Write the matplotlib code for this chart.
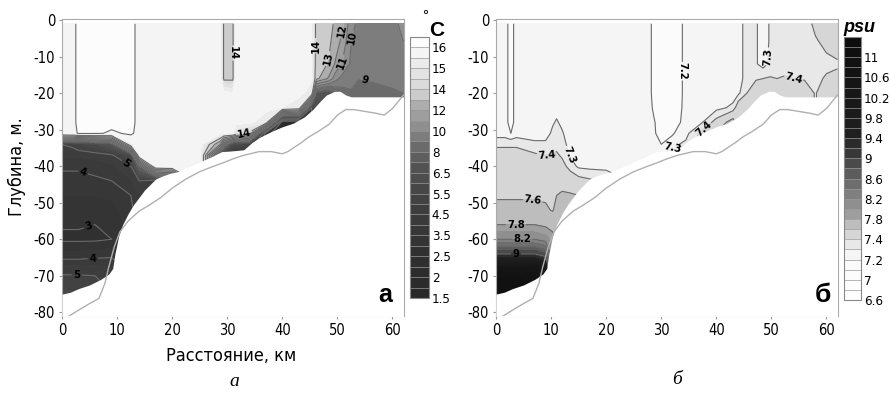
import numpy as np
import matplotlib
matplotlib.use("Agg")
import matplotlib.pyplot as plt
from matplotlib import font_manager

# ---------------- data ----------------
depth = [-1, -6, -12, -16, -20, -24, -28, -31, -34, -37, -40, -44, -48, -52, -56, -60, -64, -68, -72, -76]

temp_dist = [0, 2, 3, 6, 9, 12.5, 14, 17, 20, 25, 28.7, 29.4, 31, 31.6, 34, 37, 40, 43,
             45.3, 46.2, 48.5, 49.6, 51, 52.5, 54, 57, 60, 62]
temp_profiles = [
    [15.7, 15.7, 15.7, 15.7, 15.7, 15.7, 15.7, 15.6, 5.0, 4.6, 4.1, 3.8, 3.5, 3.3, 3.05, 2.9, 3.6, 4.7, 5.4, 5.6],
    [15.8, 15.8, 15.8, 15.8, 15.8, 15.8, 15.8, 15.7, 5.2, 4.6, 4.1, 3.8, 3.5, 3.3, 3.05, 2.9, 3.6, 4.7, 5.4, 5.6],
    [16.2, 16.2, 16.2, 16.2, 16.2, 16.2, 16.2, 16.1, 5.5, 4.6, 4.1, 3.8, 3.5, 3.3, 3.05, 2.9, 3.6, 4.7, 5.4, 5.6],
    [16.2, 16.2, 16.2, 16.2, 16.2, 16.2, 16.2, 16.1, 6.0, 4.7, 4.2, 3.9, 3.5, 3.25, 3.0, 2.9, 3.7, 4.7, 5.3, 5.3],
    [16.2, 16.2, 16.2, 16.2, 16.2, 16.2, 16.2, 15.9, 7.0, 4.9, 4.4, 4.0, 3.6, 3.3, 3.1, 3.0, 3.8, 4.6, 4.6, 4.6],
    [16.2, 16.2, 16.2, 16.2, 16.2, 16.2, 16.2, 16.1, 15.4, 6.0, 5.0, 4.4, 4.0, 3.8, 3.8, 3.8, 3.8, 3.8, 3.8, 3.8],
    [15.8, 15.8, 15.8, 15.8, 15.8, 15.8, 15.8, 15.8, 15.7, 15.5, 8.0, 5.0, 4.5, 4.5, 4.5, 4.5, 4.5, 4.5, 4.5, 4.5],
    [15.8, 15.8, 15.8, 15.8, 15.8, 15.8, 15.8, 15.8, 15.8, 15.8, 15.5, 4.5, 4.5, 4.5, 4.5, 4.5, 4.5, 4.5, 4.5, 4.5],
    [15.8, 15.8, 15.8, 15.8, 15.8, 15.8, 15.8, 15.8, 15.8, 15.8, 15.7, 5.0, 5.0, 5.0, 5.0, 5.0, 5.0, 5.0, 5.0, 5.0],
    [15.8, 15.8, 15.8, 15.8, 15.8, 15.8, 15.8, 15.8, 15.8, 15.8, 15.8, 15.8, 15.8, 15.8, 15.8, 15.8, 15.8, 15.8, 15.8, 15.8],
    [15.7, 15.7, 15.7, 15.7, 15.7, 15.7, 15.7, 15.7, 12.0, 6.0, 6.0, 6.0, 6.0, 6.0, 6.0, 6.0, 6.0, 6.0, 6.0, 6.0],
    [13.8, 13.8, 13.8, 13.8, 15.7, 15.7, 15.7, 15.6, 9.0, 5.0, 5.0, 5.0, 5.0, 5.0, 5.0, 5.0, 5.0, 5.0, 5.0, 5.0],
    [13.8, 13.8, 13.8, 13.8, 15.6, 15.7, 15.7, 15.6, 6.0, 4.5, 4.5, 4.5, 4.5, 4.5, 4.5, 4.5, 4.5, 4.5, 4.5, 4.5],
    [15.7, 15.7, 15.7, 15.7, 15.7, 15.7, 15.7, 14.6, 6.0, 4.5, 4.5, 4.5, 4.5, 4.5, 4.5, 4.5, 4.5, 4.5, 4.5, 4.5],
    [15.7, 15.7, 15.7, 15.7, 15.7, 15.7, 15.7, 13.8, 5.5, 5.5, 5.5, 5.5, 5.5, 5.5, 5.5, 5.5, 5.5, 5.5, 5.5, 5.5],
    [15.7, 15.7, 15.7, 15.7, 15.7, 15.7, 15.0, 3.5, 3.5, 3.5, 3.5, 3.5, 3.5, 3.5, 3.5, 3.5, 3.5, 3.5, 3.5, 3.5],
    [15.7, 15.7, 15.7, 15.7, 15.7, 15.5, 2.0, 2.0, 2.0, 2.0, 2.0, 2.0, 2.0, 2.0, 2.0, 2.0, 2.0, 2.0, 2.0, 2.0],
    [15.7, 15.7, 15.7, 15.7, 15.7, 15.0, 1.7, 1.7, 1.7, 1.7, 1.7, 1.7, 1.7, 1.7, 1.7, 1.7, 1.7, 1.7, 1.7, 1.7],
    [15.6, 15.6, 15.6, 15.6, 15.2, 5.0, 5.0, 5.0, 5.0, 5.0, 5.0, 5.0, 5.0, 5.0, 5.0, 5.0, 5.0, 5.0, 5.0, 5.0],
    [13.6, 13.6, 13.5, 13.3, 7.0, 6.0, 6.0, 6.0, 6.0, 6.0, 6.0, 6.0, 6.0, 6.0, 6.0, 6.0, 6.0, 6.0, 6.0, 6.0],
    [13.2, 13.15, 12.9, 11.8, 6.5, 6.5, 6.5, 6.5, 6.5, 6.5, 6.5, 6.5, 6.5, 6.5, 6.5, 6.5, 6.5, 6.5, 6.5, 6.5],
    [12.9, 12.6, 11.9, 10.4, 8.0, 8.0, 8.0, 8.0, 8.0, 8.0, 8.0, 8.0, 8.0, 8.0, 8.0, 8.0, 8.0, 8.0, 8.0, 8.0],
    [12.1, 11.6, 10.8, 9.6, 8.6, 8.6, 8.6, 8.6, 8.6, 8.6, 8.6, 8.6, 8.6, 8.6, 8.6, 8.6, 8.6, 8.6, 8.6, 8.6],
    [10.3, 10.0, 9.8, 9.3, 8.9, 8.9, 8.9, 8.9, 8.9, 8.9, 8.9, 8.9, 8.9, 8.9, 8.9, 8.9, 8.9, 8.9, 8.9, 8.9],
    [9.7, 9.6, 9.4, 9.0, 8.8, 8.8, 8.8, 8.8, 8.8, 8.8, 8.8, 8.8, 8.8, 8.8, 8.8, 8.8, 8.8, 8.8, 8.8, 8.8],
    [9.6, 9.5, 9.3, 9.1, 8.8, 8.8, 8.8, 8.8, 8.8, 8.8, 8.8, 8.8, 8.8, 8.8, 8.8, 8.8, 8.8, 8.8, 8.8, 8.8],
    [9.8, 9.7, 9.5, 9.2, 8.9, 8.9, 8.9, 8.9, 8.9, 8.9, 8.9, 8.9, 8.9, 8.9, 8.9, 8.9, 8.9, 8.9, 8.9, 8.9],
    [10.2, 10.0, 9.6, 9.3, 9.0, 9.0, 9.0, 9.0, 9.0, 9.0, 9.0, 9.0, 9.0, 9.0, 9.0, 9.0, 9.0, 9.0, 9.0, 9.0],
]

sal_dist = [0, 1.6, 2.7, 3.7, 7, 9, 10.3, 11, 12, 13.5, 15, 17, 20, 25, 27.8, 28.6, 30, 32, 33.3, 34.5,
            37, 40, 43, 44, 45, 47.2, 48.5, 49.8, 51, 52.5, 54, 56, 58, 60, 62]
sal_profiles = [
    [7.25, 7.25, 7.25, 7.25, 7.25, 7.25, 7.25, 7.25, 7.38, 7.45, 7.50, 7.55, 7.58, 7.65, 7.80, 8.20, 9.00, 10.5, 11.0, 11.0],
    [7.25, 7.25, 7.25, 7.25, 7.25, 7.25, 7.25, 7.25, 7.38, 7.45, 7.50, 7.55, 7.58, 7.65, 7.80, 8.20, 9.00, 10.5, 11.0, 11.0],
    [7.15, 7.15, 7.15, 7.15, 7.15, 7.15, 7.15, 7.20, 7.38, 7.45, 7.50, 7.55, 7.58, 7.65, 7.80, 8.20, 9.00, 10.5, 11.0, 11.0],
    [7.25, 7.25, 7.25, 7.25, 7.25, 7.25, 7.25, 7.25, 7.38, 7.45, 7.50, 7.55, 7.58, 7.65, 7.80, 8.20, 9.00, 10.5, 11.0, 11.0],
    [7.25, 7.25, 7.25, 7.25, 7.25, 7.25, 7.25, 7.26, 7.32, 7.42, 7.50, 7.55, 7.58, 7.65, 7.80, 8.20, 9.00, 10.5, 10.8, 10.8],
    [7.25, 7.25, 7.25, 7.25, 7.25, 7.25, 7.25, 7.26, 7.32, 7.40, 7.48, 7.55, 7.58, 7.62, 7.75, 8.10, 8.80, 10.0, 10.0, 10.0],
    [7.25, 7.25, 7.25, 7.25, 7.25, 7.26, 7.29, 7.32, 7.35, 7.41, 7.48, 7.53, 7.56, 7.59, 7.70, 7.90, 7.90, 7.90, 7.90, 7.90],
    [7.25, 7.25, 7.25, 7.25, 7.25, 7.27, 7.31, 7.33, 7.36, 7.42, 7.50, 7.55, 7.60, 7.65, 7.75, 7.75, 7.75, 7.75, 7.75, 7.75],
    [7.25, 7.25, 7.25, 7.25, 7.25, 7.26, 7.28, 7.31, 7.33, 7.38, 7.45, 7.55, 7.62, 7.70, 7.70, 7.70, 7.70, 7.70, 7.70, 7.70],
    [7.25, 7.25, 7.25, 7.25, 7.25, 7.25, 7.25, 7.25, 7.27, 7.29, 7.35, 7.50, 7.62, 7.62, 7.62, 7.62, 7.62, 7.62, 7.62, 7.62],
    [7.25, 7.25, 7.25, 7.25, 7.25, 7.25, 7.25, 7.25, 7.25, 7.25, 7.28, 7.45, 7.60, 7.60, 7.60, 7.60, 7.60, 7.60, 7.60, 7.60],
    [7.25, 7.25, 7.25, 7.25, 7.25, 7.25, 7.25, 7.25, 7.25, 7.25, 7.27, 7.42, 7.42, 7.42, 7.42, 7.42, 7.42, 7.42, 7.42, 7.42],
    [7.25, 7.25, 7.25, 7.25, 7.25, 7.25, 7.25, 7.25, 7.25, 7.25, 7.27, 7.38, 7.38, 7.38, 7.38, 7.38, 7.38, 7.38, 7.38, 7.38],
    [7.25, 7.25, 7.25, 7.25, 7.25, 7.25, 7.25, 7.25, 7.25, 7.26, 7.28, 7.28, 7.28, 7.28, 7.28, 7.28, 7.28, 7.28, 7.28, 7.28],
    [7.25, 7.25, 7.25, 7.25, 7.25, 7.25, 7.25, 7.25, 7.25, 7.25, 7.25, 7.25, 7.25, 7.25, 7.25, 7.25, 7.25, 7.25, 7.25, 7.25],
    [7.15, 7.15, 7.15, 7.15, 7.15, 7.18, 7.22, 7.22, 7.25, 7.25, 7.25, 7.25, 7.25, 7.25, 7.25, 7.25, 7.25, 7.25, 7.25, 7.25],
    [7.12, 7.12, 7.12, 7.12, 7.12, 7.12, 7.12, 7.15, 7.20, 7.30, 7.30, 7.30, 7.30, 7.30, 7.30, 7.30, 7.30, 7.30, 7.30, 7.30],
    [7.12, 7.12, 7.12, 7.12, 7.12, 7.12, 7.15, 7.18, 7.28, 7.35, 7.35, 7.35, 7.35, 7.35, 7.35, 7.35, 7.35, 7.35, 7.35, 7.35],
    [7.16, 7.16, 7.16, 7.16, 7.16, 7.17, 7.19, 7.25, 7.30, 7.30, 7.30, 7.30, 7.30, 7.30, 7.30, 7.30, 7.30, 7.30, 7.30, 7.30],
    [7.25, 7.25, 7.25, 7.25, 7.25, 7.25, 7.25, 7.27, 7.32, 7.32, 7.32, 7.32, 7.32, 7.32, 7.32, 7.32, 7.32, 7.32, 7.32, 7.32],
    [7.25, 7.25, 7.25, 7.25, 7.25, 7.25, 7.27, 7.42, 7.42, 7.42, 7.42, 7.42, 7.42, 7.42, 7.42, 7.42, 7.42, 7.42, 7.42, 7.42],
    [7.25, 7.25, 7.25, 7.25, 7.25, 7.27, 7.45, 7.60, 7.60, 7.60, 7.60, 7.60, 7.60, 7.60, 7.60, 7.60, 7.60, 7.60, 7.60, 7.60],
    [7.25, 7.25, 7.25, 7.25, 7.26, 7.32, 7.70, 7.70, 7.70, 7.70, 7.70, 7.70, 7.70, 7.70, 7.70, 7.70, 7.70, 7.70, 7.70, 7.70],
    [7.26, 7.26, 7.26, 7.26, 7.28, 7.50, 7.50, 7.50, 7.50, 7.50, 7.50, 7.50, 7.50, 7.50, 7.50, 7.50, 7.50, 7.50, 7.50, 7.50],
    [7.31, 7.31, 7.31, 7.31, 7.35, 7.60, 7.60, 7.60, 7.60, 7.60, 7.60, 7.60, 7.60, 7.60, 7.60, 7.60, 7.60, 7.60, 7.60, 7.60],
    [7.31, 7.31, 7.31, 7.38, 7.55, 7.55, 7.55, 7.55, 7.55, 7.55, 7.55, 7.55, 7.55, 7.55, 7.55, 7.55, 7.55, 7.55, 7.55, 7.55],
    [7.26, 7.26, 7.26, 7.40, 7.50, 7.50, 7.50, 7.50, 7.50, 7.50, 7.50, 7.50, 7.50, 7.50, 7.50, 7.50, 7.50, 7.50, 7.50, 7.50],
    [7.31, 7.31, 7.33, 7.41, 7.50, 7.50, 7.50, 7.50, 7.50, 7.50, 7.50, 7.50, 7.50, 7.50, 7.50, 7.50, 7.50, 7.50, 7.50, 7.50],
    [7.31, 7.32, 7.34, 7.40, 7.52, 7.52, 7.52, 7.52, 7.52, 7.52, 7.52, 7.52, 7.52, 7.52, 7.52, 7.52, 7.52, 7.52, 7.52, 7.52],
    [7.31, 7.33, 7.36, 7.41, 7.50, 7.50, 7.50, 7.50, 7.50, 7.50, 7.50, 7.50, 7.50, 7.50, 7.50, 7.50, 7.50, 7.50, 7.50, 7.50],
    [7.34, 7.35, 7.37, 7.40, 7.50, 7.50, 7.50, 7.50, 7.50, 7.50, 7.50, 7.50, 7.50, 7.50, 7.50, 7.50, 7.50, 7.50, 7.50, 7.50],
    [7.36, 7.36, 7.37, 7.39, 7.48, 7.48, 7.48, 7.48, 7.48, 7.48, 7.48, 7.48, 7.48, 7.48, 7.48, 7.48, 7.48, 7.48, 7.48, 7.48],
    [7.42, 7.39, 7.37, 7.38, 7.39, 7.39, 7.39, 7.39, 7.39, 7.39, 7.39, 7.39, 7.39, 7.39, 7.39, 7.39, 7.39, 7.39, 7.39, 7.39],
    [7.45, 7.42, 7.38, 7.41, 7.50, 7.50, 7.50, 7.50, 7.50, 7.50, 7.50, 7.50, 7.50, 7.50, 7.50, 7.50, 7.50, 7.50, 7.50, 7.50],
    [7.46, 7.44, 7.39, 7.42, 7.50, 7.50, 7.50, 7.50, 7.50, 7.50, 7.50, 7.50, 7.50, 7.50, 7.50, 7.50, 7.50, 7.50, 7.50, 7.50],
]

# lower edge of the measured section (below it: no data)
edge_dist = [0, 1.5, 3, 5, 7, 8.5, 9.2, 9.6, 10.3, 11, 12, 13, 14, 15, 16, 17, 18, 19.5, 21, 24, 27,
             29, 31, 33, 34.5, 36, 38, 40, 42, 44, 45.5, 47, 48, 49.5, 50.5, 51.5, 52.5, 62]
edge_depth = [-75, -74.5, -73.5, -72.5, -71, -69.5, -68, -64, -59, -56, -53, -50.5, -48.5, -46.5, -45,
              -43.5, -42.8, -42, -41.5, -39.5, -37.5, -36, -35.8, -35.5, -33.5, -32, -30.5, -29.2,
              -28.2, -26.5, -24.5, -22, -20.5, -19.5, -19.5, -20.5, -21, -21]

# sea bottom profile
bottom_dist = [0, 1.2, 3, 5, 6.7, 7.8, 8.5, 9.5, 10.5, 12, 14, 16, 18, 20, 22.5, 25, 27, 29, 31, 33,
               35.8, 38, 40, 41, 42, 43.5, 44.8, 46.5, 48.5, 50, 51.5, 53, 55, 57, 58.5, 60, 61.2, 62]
bottom_depth = [-81.3, -81.1, -79.4, -77.6, -76.2, -72, -67.5, -62, -58, -55, -52.3, -50.5, -48.5, -46,
                -43.5, -41.5, -40.3, -39.2, -38, -37, -36, -36, -36.6, -36, -35, -33.5, -32, -30.5,
                -28.5, -26, -24.5, -24.5, -25, -25.5, -26, -24.2, -22, -20.5]

temp_levels = [1.5, 1.75, 2, 2.25, 2.5, 3, 3.5, 4, 4.5, 5, 5.5, 6, 6.5, 7.25, 8, 9, 10, 11, 12, 13,
               14, 14.5, 15, 15.5, 16, 16.5]
temp_ticks = [1.5, 2, 2.5, 3.5, 4.5, 5.5, 6.5, 8, 10, 12, 14, 15, 16]
temp_lines = [3, 4, 5, 9, 10, 11, 12, 13, 14, 16]

sal_levels = [6.6, 6.8, 7, 7.1, 7.2, 7.3, 7.4, 7.6, 7.8, 8.0, 8.2, 8.4, 8.6, 8.8, 9, 9.2, 9.4, 9.6,
              9.8, 10, 10.2, 10.4, 10.6, 10.8, 11, 11.2, 11.4]
sal_ticks = [6.6, 7, 7.2, 7.4, 7.8, 8.2, 8.6, 9, 9.4, 9.8, 10.2, 10.6, 11]
sal_lines = [7.2, 7.3, 7.4, 7.6, 7.8, 8.2, 8.6, 9]

# ---------------- style ----------------
fonts = font_manager.fontManager.ttflist
names = {f.name for f in fonts}
stretch = 'normal'
if 'Liberation Sans Narrow' in names:
    sans = 'Liberation Sans Narrow'
elif any('DejaVuSansCondensed' in f.fname for f in fonts):
    sans = 'DejaVu Sans'
    stretch = 'condensed'
else:
    sans = 'Liberation Sans'
plt.rcParams['font.family'] = [sans, 'DejaVu Sans']
plt.rcParams['font.stretch'] = stretch
plt.rcParams['axes.unicode_minus'] = False
small = 10.5 if sans != 'Liberation Sans' else 9.5


def band_colors(n, idx, grey):
    g = np.interp(np.arange(n), idx, grey)
    return [str(round(v, 3)) for v in g]


temp_colors = band_colors(len(temp_levels) - 1,
                          [0, 4, 8, 12, 14, 16, 18, 19, 20, 22, 23, 24],
                          [0.16, 0.19, 0.24, 0.32, 0.42, 0.56, 0.68, 0.80, 0.86, 0.92, 0.955, 0.99])
sal_colors = band_colors(len(sal_levels) - 1,
                         [0, 3, 4, 5, 6, 7, 8, 10, 12, 14, 16, 25],
                         [1.0, 0.985, 0.96, 0.91, 0.84, 0.74, 0.62, 0.5, 0.36, 0.22, 0.12, 0.05])

fig = plt.figure(figsize=(8.9, 4.07), dpi=100)
ax1 = fig.add_axes([0.0697, 0.2236, 0.3843, 0.7297])
ax2 = fig.add_axes([0.5573, 0.2236, 0.3843, 0.7297])
cax1 = fig.add_axes([0.4607, 0.2678, 0.0213, 0.6413])
cax2 = fig.add_axes([0.9483, 0.2629, 0.0191, 0.6462])


def panel(ax, cax, dist, profiles, levels, colors, lines, ticks, manual):
    X, Y = np.meshgrid(dist, depth)
    V = np.array(profiles).T
    cf = ax.contourf(X, Y, V, levels=levels, colors=colors, zorder=1)
    cs = ax.contour(X, Y, V, levels=lines, colors='#6a6a6a', linewidths=0.8, zorder=2)
    texts = ax.clabel(cs, manual=manual, fmt='%g', fontsize=8, inline=True, inline_spacing=2,
                      colors='black')
    for t in texts:
        t.set_fontweight('bold')
        t.set_zorder(5)
    ax.fill_between(edge_dist, edge_depth, -90, color='white', lw=0, zorder=3)
    ax.plot(bottom_dist, bottom_depth, color='#b0b0b0', lw=1.0, zorder=4)
    ax.set_xlim(0, 62.1)
    ax.set_ylim(-81, 0.3)
    ax.set_xticks(range(0, 61, 10))
    ax.set_yticks(range(-80, 1, 10))
    ax.tick_params(labelsize=small, length=2, color='#999999', pad=3)
    for s in ax.spines.values():
        s.set_color('#aaaaaa')
        s.set_linewidth(0.8)
    cb = fig.colorbar(cf, cax=cax, ticks=ticks, drawedges=True)
    cb.ax.set_yticklabels(['%g' % t for t in ticks])
    cb.outline.set_edgecolor('#888888')
    cb.outline.set_linewidth(0.8)
    cb.dividers.set_color('#999999')
    cb.dividers.set_linewidth(0.5)
    cax.tick_params(length=0, labelsize=small - 1, pad=2)
    return cb


panel(ax1, cax1, temp_dist, temp_profiles, temp_levels, temp_colors, temp_lines, temp_ticks,
      [(31.1, -9), (45.9, -7), (48.2, -10.5), (51.1, -3), (50.8, -11.5), (53.0, -5), (55, -15.8),
       (33, -30.3), (3.9, -41.3), (11.5, -39.5), (5, -57.3), (5.6, -65.5), (2.7, -69.7)])
panel(ax2, cax2, sal_dist, sal_profiles, sal_levels, sal_colors, sal_lines, sal_ticks,
      [(33.8, -14), (32.3, -34.8), (38, -30.3), (49.5, -10), (54, -16), (12.9, -37),
       (9.1, -36.5), (6.7, -49.2), (3.6, -56), (4.8, -60), (3.6, -64)])

ax1.text(0.944, 0.07, 'а', transform=ax1.transAxes, fontsize=18, fontweight='bold',
         ha='center', va='center', family='Liberation Sans', stretch='normal', zorder=6)
ax2.text(0.956, 0.07, 'б', transform=ax2.transAxes, fontsize=19, fontweight='bold',
         ha='center', va='center', family='Liberation Sans', stretch='normal', zorder=6)

fig.text(425 / 890, 1 - 16 / 407, '°', fontsize=11, ha='center', va='center', family='Liberation Sans')
fig.text(437 / 890, 1 - 30 / 407, 'C', fontsize=15, fontweight='bold', ha='center', va='center',
         family='Liberation Sans')
fig.text(859 / 890, 1 - 27 / 407, 'psu', fontsize=13, fontweight='bold', style='italic',
         ha='center', va='center', family='Liberation Sans')

fig.text(17 / 890, 1 - 167 / 407, 'Глубина, м.', rotation=90, fontsize=13, ha='center', va='center')
fig.text(231 / 890, 1 - 356 / 407, 'Расстояние, км', fontsize=13, ha='center', va='center')
fig.text(234 / 890, 1 - 381 / 407, 'а', fontsize=14, style='italic', family='Liberation Serif',
         stretch='normal', ha='center', va='center')
fig.text(677 / 890, 1 - 380 / 407, 'б', fontsize=14, style='italic', family='Liberation Serif',
         stretch='normal', ha='center', va='center')

fig.savefig('out.png', dpi=100)
